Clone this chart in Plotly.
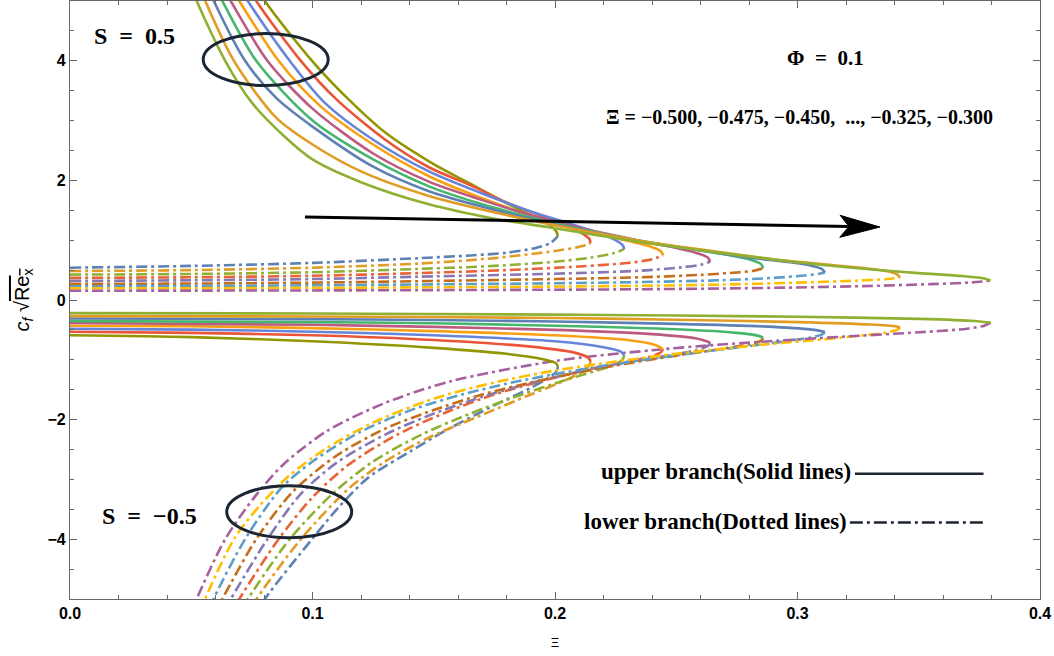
import plotly.graph_objects as go

# Parameter values of the curve family
XI = [-0.500, -0.475, -0.450, -0.425, -0.400, -0.375, -0.350, -0.325, -0.300]

# Mathematica-style palette: lower-branch curves use colours 1-9, upper-branch 10-18
DASH_COLORS = ["#5E81B5", "#E19C24", "#8FB032", "#EB6235", "#8778B3",
               "#C56E1A", "#5D9EC7", "#FFBF00", "#A5609D"]
SOLID_COLORS = ["#929600", "#E95536", "#6685D9", "#F89F13", "#BC5B80",
                "#47B66D", "#5E81B5", "#E19C24", "#8FB032"]

# ---------- S = 0.5, lower branch (from Xi = 0 to the fold) ----------
pos_lower_x = [
    [0, 0.05, 0.10, 0.144, 0.165, 0.18, 0.192, 0.198, 0.2012],
    [0, 0.05, 0.10, 0.144, 0.175, 0.2, 0.209, 0.2135, 0.2147],
    [0, 0.05, 0.10, 0.144, 0.175, 0.2, 0.215, 0.224, 0.2285],
    [0, 0.05, 0.10, 0.144, 0.18, 0.21, 0.23, 0.24, 0.2446],
    [0, 0.05, 0.10, 0.144, 0.2, 0.235, 0.252, 0.26, 0.264],
    [0, 0.05, 0.10, 0.144, 0.2, 0.235, 0.26, 0.275, 0.282, 0.2858],
    [0, 0.05, 0.10, 0.144, 0.2, 0.235, 0.268, 0.29, 0.303, 0.309, 0.3113],
    [0, 0.05, 0.10, 0.144, 0.2, 0.235, 0.268, 0.30, 0.325, 0.337, 0.3423],
    [0, 0.05, 0.10, 0.15, 0.2, 0.235, 0.268, 0.30, 0.33, 0.355, 0.372, 0.3797],
]
pos_lower_y = [
    [0.54, 0.57, 0.62, 0.70, 0.745, 0.79, 0.87, 0.95, 1.07],
    [0.485, 0.50, 0.54, 0.61, 0.70, 0.82, 0.88, 0.925, 0.96],
    [0.425, 0.435, 0.465, 0.52, 0.57, 0.64, 0.71, 0.78, 0.85],
    [0.37, 0.38, 0.405, 0.45, 0.50, 0.56, 0.62, 0.68, 0.75],
    [0.32, 0.33, 0.35, 0.39, 0.44, 0.49, 0.545, 0.59, 0.64],
    [0.27, 0.275, 0.29, 0.315, 0.35, 0.38, 0.42, 0.46, 0.49, 0.53],
    [0.23, 0.235, 0.245, 0.26, 0.28, 0.30, 0.33, 0.37, 0.41, 0.44, 0.46],
    [0.195, 0.197, 0.203, 0.212, 0.225, 0.237, 0.258, 0.29, 0.325, 0.35, 0.375],
    [0.155, 0.157, 0.16, 0.165, 0.172, 0.18, 0.192, 0.21, 0.235, 0.265, 0.295, 0.325],
]

# ---------- S = 0.5, upper branch (from the fold upwards) ----------
pos_upper_x = [
    [0.2012, 0.2005, 0.198, 0.192, 0.182, 0.168, 0.148, 0.13, 0.115, 0.0998, 0.0804, 0.072],
    [0.2147, 0.214, 0.211, 0.205, 0.195, 0.18, 0.165, 0.148, 0.13, 0.11, 0.0952, 0.0768, 0.068],
    [0.2285, 0.228, 0.225, 0.218, 0.205, 0.19, 0.17, 0.148, 0.125, 0.105, 0.0906, 0.0733, 0.064],
    [0.2446, 0.2435, 0.239, 0.23, 0.215, 0.195, 0.17, 0.148, 0.125, 0.103, 0.086, 0.0698, 0.061],
    [0.264, 0.263, 0.258, 0.25, 0.235, 0.215, 0.19, 0.17, 0.148, 0.125, 0.1, 0.0814, 0.0663, 0.058],
    [0.2858, 0.285, 0.281, 0.272, 0.255, 0.235, 0.21, 0.19, 0.17, 0.148, 0.125, 0.1, 0.0768, 0.0628, 0.055],
    [0.3113, 0.310, 0.306, 0.297, 0.28, 0.26, 0.235, 0.21, 0.19, 0.17, 0.148, 0.125, 0.1, 0.085, 0.0722, 0.0593, 0.053],
    [0.3423, 0.341, 0.337, 0.328, 0.31, 0.29, 0.27, 0.25, 0.235, 0.21, 0.18, 0.148, 0.12, 0.1, 0.085, 0.0676, 0.0558, 0.050],
    [0.3797, 0.377, 0.368, 0.35, 0.325, 0.30, 0.27, 0.235, 0.2, 0.175, 0.148, 0.12, 0.1, 0.088, 0.075, 0.064, 0.0523, 0.047],
]
pos_upper_y = [
    [1.07, 1.15, 1.25, 1.38, 1.58, 1.88, 2.32, 2.8, 3.35, 4.0, 5.0, 5.6],
    [0.96, 1.03, 1.12, 1.24, 1.40, 1.63, 1.92, 2.22, 2.68, 3.35, 4.0, 5.0, 5.6],
    [0.85, 0.91, 1.0, 1.12, 1.29, 1.48, 1.78, 2.15, 2.68, 3.3, 4.0, 5.0, 5.6],
    [0.75, 0.82, 0.90, 0.99, 1.13, 1.35, 1.70, 2.07, 2.6, 3.25, 4.0, 5.0, 5.6],
    [0.64, 0.71, 0.79, 0.87, 0.99, 1.16, 1.42, 1.67, 1.98, 2.45, 3.2, 4.0, 5.0, 5.6],
    [0.53, 0.60, 0.67, 0.75, 0.86, 0.99, 1.19, 1.38, 1.6, 1.90, 2.35, 3.0, 4.0, 5.0, 5.6],
    [0.46, 0.52, 0.57, 0.63, 0.71, 0.83, 0.98, 1.18, 1.36, 1.56, 1.82, 2.23, 2.9, 3.38, 4.0, 5.0, 5.6],
    [0.38, 0.43, 0.48, 0.53, 0.60, 0.68, 0.79, 0.90, 0.99, 1.17, 1.42, 1.74, 2.15, 2.6, 3.05, 4.0, 5.0, 5.6],
    [0.325, 0.36, 0.40, 0.45, 0.53, 0.63, 0.78, 0.97, 1.20, 1.36, 1.60, 1.97, 2.35, 2.75, 3.3, 4.0, 5.0, 5.6],
]

# ---------- S = -0.5, upper branch (from Xi = 0 to the fold) ----------
neg_upper_x = [
    [0, 0.05, 0.10, 0.15, 0.18, 0.195, 0.2005, 0.2012],
    [0, 0.05, 0.10, 0.15, 0.19, 0.208, 0.2135, 0.2147],
    [0, 0.05, 0.10, 0.15, 0.2, 0.22, 0.227, 0.2285],
    [0, 0.05, 0.10, 0.15, 0.2, 0.23, 0.241, 0.2446],
    [0, 0.10, 0.15, 0.2, 0.24, 0.258, 0.264],
    [0, 0.10, 0.15, 0.2, 0.25, 0.275, 0.284, 0.2858],
    [0, 0.10, 0.15, 0.2, 0.25, 0.29, 0.307, 0.3113],
    [0, 0.10, 0.2, 0.25, 0.3, 0.33, 0.3405, 0.3423],
    [0, 0.10, 0.2, 0.25, 0.3, 0.35, 0.373, 0.3797],
]
neg_upper_y = [
    [-0.59, -0.62, -0.69, -0.80, -0.90, -0.99, -1.06, -1.12],
    [-0.53, -0.55, -0.59, -0.67, -0.78, -0.88, -0.96, -1.02],
    [-0.48, -0.495, -0.53, -0.59, -0.69, -0.79, -0.86, -0.92],
    [-0.43, -0.44, -0.47, -0.52, -0.59, -0.67, -0.75, -0.82],
    [-0.385, -0.415, -0.45, -0.50, -0.57, -0.64, -0.71],
    [-0.35, -0.37, -0.39, -0.43, -0.49, -0.55, -0.60, -0.63],
    [-0.31, -0.32, -0.335, -0.36, -0.40, -0.45, -0.50, -0.535],
    [-0.27, -0.275, -0.30, -0.33, -0.37, -0.41, -0.44, -0.46],
    [-0.22, -0.225, -0.245, -0.26, -0.28, -0.315, -0.35, -0.38],
]

# ---------- S = -0.5, lower branch (from the fold downwards) ----------
neg_lower_x = [
    [0.2012, 0.2005, 0.197, 0.19, 0.175, 0.155, 0.14, 0.123, 0.1107, 0.0998, 0.0804, 0.072],
    [0.2147, 0.214, 0.211, 0.205, 0.19, 0.17, 0.148, 0.13, 0.115, 0.0952, 0.0769, 0.068],
    [0.2285, 0.228, 0.225, 0.218, 0.205, 0.185, 0.165, 0.145, 0.125, 0.108, 0.0906, 0.0733, 0.064],
    [0.2446, 0.2435, 0.239, 0.23, 0.215, 0.195, 0.175, 0.155, 0.135, 0.115, 0.1, 0.086, 0.0698, 0.061],
    [0.264, 0.263, 0.258, 0.248, 0.23, 0.21, 0.19, 0.17, 0.15, 0.13, 0.11, 0.095, 0.0814, 0.0663, 0.058],
    [0.2858, 0.285, 0.28, 0.27, 0.25, 0.23, 0.21, 0.19, 0.17, 0.15, 0.13, 0.11, 0.092, 0.0768, 0.0628, 0.055],
    [0.3113, 0.310, 0.305, 0.295, 0.28, 0.26, 0.24, 0.22, 0.2, 0.18, 0.16, 0.14, 0.12, 0.1, 0.087, 0.0722, 0.0592, 0.053],
    [0.3423, 0.341, 0.336, 0.325, 0.31, 0.29, 0.27, 0.25, 0.225, 0.2, 0.175, 0.15, 0.125, 0.105, 0.09, 0.078, 0.0676, 0.0557, 0.050],
    [0.3797, 0.377, 0.37, 0.35, 0.32, 0.30, 0.27, 0.24, 0.2, 0.157, 0.13, 0.106, 0.088, 0.076, 0.064, 0.0522, 0.046],
]
neg_lower_y = [
    [-1.12, -1.2, -1.31, -1.47, -1.76, -2.18, -2.54, -2.97, -3.47, -4.0, -5.0, -5.6],
    [-1.02, -1.1, -1.2, -1.33, -1.58, -1.92, -2.3, -2.7, -3.15, -4.0, -5.0, -5.6],
    [-0.92, -0.99, -1.07, -1.17, -1.33, -1.6, -1.9, -2.25, -2.7, -3.25, -4.0, -5.0, -5.6],
    [-0.82, -0.88, -0.95, -1.03, -1.15, -1.35, -1.58, -1.88, -2.25, -2.75, -3.3, -4.0, -5.0, -5.6],
    [-0.71, -0.77, -0.84, -0.92, -1.04, -1.2, -1.39, -1.62, -1.9, -2.25, -2.72, -3.25, -4.0, -5.0, -5.6],
    [-0.63, -0.68, -0.74, -0.81, -0.93, -1.06, -1.21, -1.38, -1.58, -1.84, -2.15, -2.6, -3.2, -4.0, -5.0, -5.6],
    [-0.535, -0.58, -0.63, -0.69, -0.77, -0.87, -0.98, -1.1, -1.24, -1.4, -1.6, -1.85, -2.2, -2.7, -3.15, -4.0, -5.0, -5.6],
    [-0.46, -0.5, -0.55, -0.6, -0.66, -0.73, -0.81, -0.9, -1.03, -1.18, -1.38, -1.65, -2.05, -2.5, -2.95, -3.45, -4.0, -5.0, -5.6],
    [-0.38, -0.43, -0.48, -0.54, -0.61, -0.66, -0.74, -0.84, -1.02, -1.36, -1.72, -2.19, -2.75, -3.3, -4.0, -5.0, -5.6],
]

LINE_W = 2.6
DASHDOT = "11px,4px,3px,4px"
INK = "#1C2633"
SERIF = "Liberation Serif"
NB = "\u00a0"
MINUS = "\u2212"

fig = go.Figure()


def add_curve(xs, ys, color, dash):
    fig.add_trace(go.Scatter(
        x=xs, y=ys, mode="lines",
        line=dict(color=color, width=LINE_W, dash=dash, shape="spline", smoothing=0.8),
        showlegend=False, hoverinfo="skip"))


for i in range(len(XI)):
    add_curve(pos_lower_x[i], pos_lower_y[i], DASH_COLORS[i], DASHDOT)
    add_curve(neg_lower_x[i], neg_lower_y[i], DASH_COLORS[i], DASHDOT)
for i in range(len(XI)):
    add_curve(pos_upper_x[i], pos_upper_y[i], SOLID_COLORS[i], "solid")
    add_curve(neg_upper_x[i], neg_upper_y[i], SOLID_COLORS[i], "solid")

# ---------- annotations ----------
X_RANGE = [0, 0.4]
Y_RANGE = [-5, 5]
PLOT_W, PLOT_H = 970, 598
px_x = PLOT_W / (X_RANGE[1] - X_RANGE[0])
px_y = PLOT_H / (Y_RANGE[1] - Y_RANGE[0])

shapes = []
# ellipses marking the two S groups
for cx, cy in [(0.0807, 4.02), (0.0904, -3.54)]:
    rx, ry = 62.5 / px_x, 26 / px_y
    shapes.append(dict(type="circle", xref="x", yref="y",
                       x0=cx - rx, x1=cx + rx, y0=cy - ry, y1=cy + ry,
                       line=dict(color=INK, width=3)))

# trend arrow
ARROW_FROM = (0.0969, 1.39)
ARROW_TO = (0.3340, 1.22)
dxp = (ARROW_TO[0] - ARROW_FROM[0]) * px_x
dyp = (ARROW_TO[1] - ARROW_FROM[1]) * px_y
norm = (dxp ** 2 + dyp ** 2) ** 0.5
ux, uy = dxp / norm, dyp / norm
nx, ny = -uy, ux
head_len, head_half, notch = 40, 11, 31


def to_data(px, py):
    return ARROW_TO[0] + px / px_x, ARROW_TO[1] + py / px_y


p1 = to_data(-head_len * ux + head_half * nx, -head_len * uy + head_half * ny)
p2 = to_data(-head_len * ux - head_half * nx, -head_len * uy - head_half * ny)
pn = to_data(-notch * ux, -notch * uy)
shapes.append(dict(type="line", xref="x", yref="y",
                   x0=ARROW_FROM[0], y0=ARROW_FROM[1], x1=pn[0], y1=pn[1],
                   line=dict(color="black", width=3)))
shapes.append(dict(type="path", xref="x", yref="y",
                   path=f"M {ARROW_TO[0]},{ARROW_TO[1]} L {p1[0]},{p1[1]} L {pn[0]},{pn[1]} L {p2[0]},{p2[1]} Z",
                   fillcolor="black", line=dict(color="black", width=1)))

# branch key lines
shapes.append(dict(type="line", xref="x", yref="y", x0=0.3237, x1=0.3767, y0=-2.905, y1=-2.905,
                   line=dict(color=INK, width=2.6)))
shapes.append(dict(type="line", xref="x", yref="y", x0=0.3216, x1=0.3767, y0=-3.72, y1=-3.72,
                   line=dict(color=INK, width=2.6, dash="13px,4px,3px,4px")))

annots = [
    dict(x=0.0268, y=4.42, text=f"S{NB}{NB}={NB}{NB}0.5", xanchor="center", size=24),
    dict(x=0.3115, y=4.04, text=f"Φ{NB}{NB}={NB}{NB}0.1", xanchor="center", size=21),
    dict(x=0.301, y=3.06,
         text=f"Ξ = {MINUS}0.500, {MINUS}0.475, {MINUS}0.450,  ..., {MINUS}0.325, {MINUS}0.300",
         xanchor="center", size=20),
    dict(x=0.0326, y=-3.62, text=f"S{NB}{NB}={NB}{NB}{MINUS}0.5", xanchor="center", size=24),
    dict(x=0.3229, y=-2.87, text="upper branch(Solid lines)", xanchor="right", size=23),
    dict(x=0.3214, y=-3.70, text="lower branch(Dotted lines)", xanchor="right", size=23),
]
annotations = [dict(x=a["x"], y=a["y"], xref="x", yref="y", text=f"<b>{a['text']}</b>",
                    showarrow=False, xanchor=a["xanchor"], yanchor="middle",
                    font=dict(family=SERIF, size=a["size"], color="black"))
               for a in annots]

axis_common = dict(
    showline=True, linecolor="#666666", linewidth=1.2, mirror="allticks",
    ticks="inside", ticklen=7, tickwidth=1, tickcolor="#666666",
    showgrid=False, zeroline=False,
    tickfont=dict(family="Liberation Sans", size=16, color="black", weight="bold"),
)

fig.update_layout(
    width=1054, height=656,
    margin=dict(l=70, r=14, t=1, b=57),
    paper_bgcolor="white", plot_bgcolor="white",
    shapes=shapes, annotations=annotations,
    xaxis=dict(range=X_RANGE, dtick=0.1, tickformat=".1f",
               minor=dict(dtick=0.02, ticks="inside", ticklen=4, tickcolor="#666666"),
               title=dict(text="Ξ", font=dict(family="Liberation Sans", size=13, color="black"), standoff=16),
               **axis_common),
    yaxis=dict(range=Y_RANGE, dtick=2,
               minor=dict(dtick=0.5, ticks="inside", ticklen=4, tickcolor="#666666"),
               title=dict(text="<i>c<sub>f</sub></i> √<span style='text-decoration:overline'>Re<sub>x</sub></span>",
                          font=dict(family="Liberation Sans", size=20, color="black"), standoff=12),
               **axis_common),
)

fig.write_html("out.html")
